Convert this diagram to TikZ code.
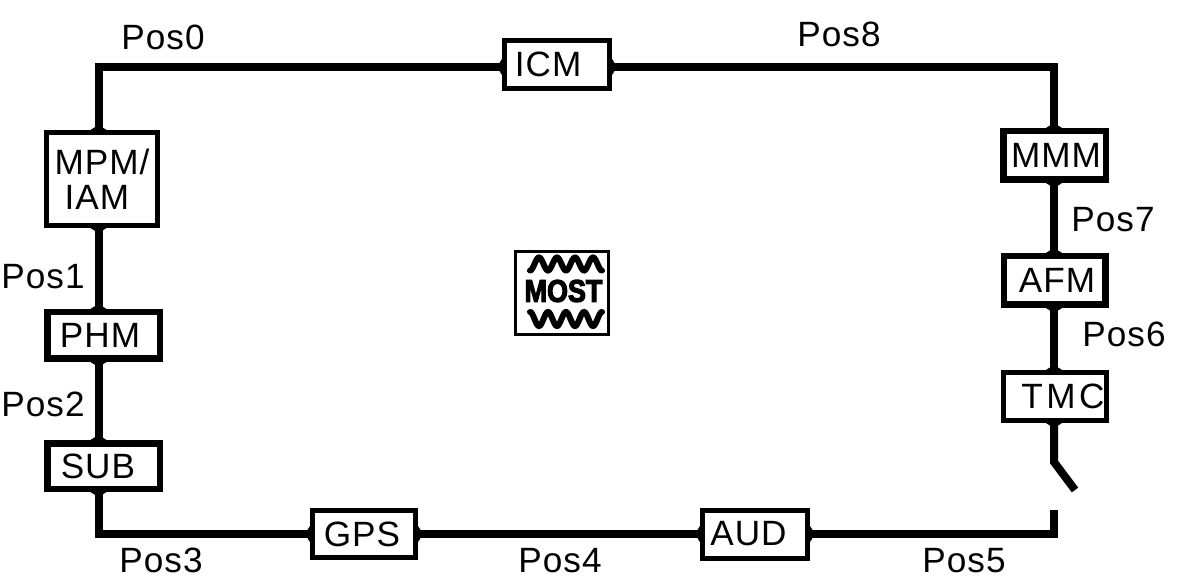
\documentclass[tikz,border=0pt]{standalone}
\usepackage{fontspec}
\setmainfont{Liberation Sans}[LetterSpace=3]
\newfontfamily\logofont[FakeBold=4]{Liberation Sans Bold}
\usetikzlibrary{arrows.meta, positioning}
\newcommand{\nudge}[1]{\kern#1pt\relax}

\begin{document}
\begin{tikzpicture}[>={Triangle[reversed, width=0.32cm, length=0.1cm]}, bus/.style={line width=0.16cm, line join=miter}, both/.style={bus, preaction={draw,<->}}, one/.style={bus, preaction={draw,<-}}]
% Define styles for blocks and labels
\tikzstyle{block} = [draw, fill=white, rectangle, inner sep=0pt, line width=0.1cm, font=\fontsize{20}{20}\selectfont]
\tikzstyle{heavy} = [block, line width=0.13cm]
\tikzstyle{tag} = [anchor=base west, inner sep=0pt, font=\fontsize{20}{20}\selectfont]
\useasboundingbox (0,0) rectangle (23.68,-11.76);

% Nodes placement
\node [block, minimum width=2.1cm, minimum height=0.96cm] (ICM) at (11.14,-1.29) {\nudge{-10.2}ICM};
\node [block, minimum width=2.22cm, minimum height=1.86cm, align=left] (MPM) at (2.04,-3.58) {MPM/\\\nudge{5.7}IAM};
\node [heavy, minimum width=2.25cm, minimum height=0.93cm, below of=MPM, node distance=3.13cm, xshift=0.03cm] (PHM) {\nudge{-4}PHM};
\node [heavy, minimum width=2.25cm, minimum height=0.91cm, below of=PHM, node distance=2.61cm] (SUB) {\nudge{-6.3}SUB};
\node [block, minimum width=2.06cm, minimum height=0.94cm] (GPS) at (7.28,-10.68) {\nudge{-2.3}GPS};
\node [block, minimum width=2.1cm, minimum height=0.96cm, right of=GPS, node distance=7.82cm] (AUD) {\nudge{-7.4}AUD};
\node [heavy, minimum width=2.05cm, minimum height=0.97cm] (MMM) at (21.09,-3.11) {\nudge{1.7}MMM};
\node [heavy, minimum width=2.03cm, minimum height=0.97cm, below of=MMM, node distance=2.5cm] (AFM) {\nudge{2.8}AFM};
\node [block, minimum width=2.06cm, minimum height=0.96cm, below of=AFM, node distance=2.32cm] (TMC) {\nudge{9.7}T\kern2ptM\kern2ptC};
\node [draw, line width=0.06cm, inner sep=0pt, minimum width=1.86cm, minimum height=1.66cm] (logo) at (11.24,-5.86) {};

% Corners of the ring and the open switch
\coordinate (cornerTL) at (1.97,-1.34);
\coordinate (cornerTR) at (21.08,-1.34);
\coordinate (cornerBL) at (1.97,-10.68);
\coordinate (cornerBR) at (21.08,-10.68);
\coordinate (switchLow) at (21.08,-10.2);
\coordinate (switchKnee) at (21.08,-9.24);
\coordinate (switchTip) at (21.5,-9.8);

% Draw edges
\draw[both] (ICM.west |- cornerTL) -- (cornerTL) -- (MPM.north -| cornerTL);
\draw[both] (ICM.east |- cornerTR) -- (cornerTR) -- (MMM.north -| cornerTR);
\draw[both] (MPM.south -| cornerTL) -- (PHM.north -| cornerTL);
\draw[both] (PHM.south -| cornerTL) -- (SUB.north -| cornerTL);
\draw[both] (SUB.south -| cornerBL) -- (cornerBL) -- (GPS.west);
\draw[both] (GPS.east) -- (AUD.west);
\draw[one] (AUD.east) -- (cornerBR) -- (switchLow);
\draw[both] (MMM.south -| cornerTR) -- (AFM.north -| cornerTR);
\draw[both] (AFM.south -| cornerTR) -- (TMC.north -| cornerTR);
\draw[one] (TMC.south -| cornerTR) -- (switchKnee) -- (switchTip);

% Position labels
\node [tag] (pos0) at (2.42,-1.0) {Pos0};
\node [tag] (pos8) at (15.94,-0.94) {Pos8};
\node [tag] (pos1) at (0.02,-5.78) {Pos1};
\node [tag] (pos2) at (0.02,-8.34) {Pos2};
\node [tag] (pos3) at (2.38,-11.44) {Pos3};
\node [tag] (pos4) at (10.36,-11.44) {Pos4};
\node [tag] (pos5) at (18.44,-11.44) {Pos5};
\node [tag] (pos6) at (21.64,-6.94) {Pos6};
\node [tag] (pos7) at (21.42,-4.64) {Pos7};

% Logo inside its frame
\node [inner sep=0pt, xscale=0.9, yscale=1.05, transform shape, font=\logofont\fontsize{17}{17}\selectfont] (most) at (11.27,-5.82) {MOST};
\draw [line width=0.12cm, line cap=round] plot [domain=0:4, samples=90] ({10.6+0.36*\x},{-5.28+0.13*sin(360*\x-90)});
\draw [line width=0.12cm, line cap=round] plot [domain=0:4, samples=90] ({10.6+0.36*\x},{-6.38-0.14*sin(360*\x-90)});
\end{tikzpicture}
\end{document}
